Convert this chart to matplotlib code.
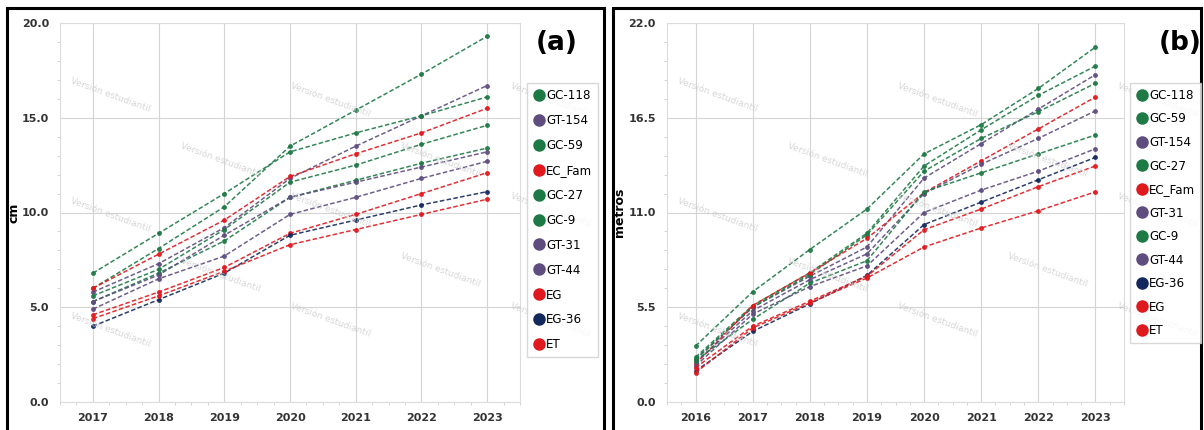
import matplotlib.pyplot as plt
from matplotlib.lines import Line2D
from matplotlib.patches import Rectangle
from matplotlib.ticker import MultipleLocator

# ---- data ----
years_a = [2017, 2018, 2019, 2020, 2021, 2022, 2023]
names_a = ['GC-118', 'GT-154', 'GC-59', 'EC_Fam', 'GC-27', 'GC-9',
           'GT-31', 'GT-44', 'EG', 'EG-36', 'ET']
gc118_a = [6.0, 8.1, 10.3, 13.5, 15.4, 17.3, 19.3]
gt154_a = [5.8, 7.3, 9.2, 11.8, 13.5, 15.1, 16.7]
gc59_a = [6.8, 8.9, 11.0, 13.2, 14.2, 15.1, 16.1]
ecfam_a = [6.0, 7.8, 9.6, 11.9, 13.1, 14.2, 15.5]
gc27_a = [5.6, 7.0, 9.1, 11.6, 12.5, 13.6, 14.6]
gc9_a = [5.3, 6.8, 8.5, 10.8, 11.7, 12.6, 13.4]
gt31_a = [5.3, 6.7, 8.8, 10.8, 11.6, 12.4, 13.2]
gt44_a = [4.9, 6.5, 7.7, 9.9, 10.8, 11.8, 12.7]
eg_a = [4.6, 5.8, 7.1, 8.9, 9.9, 11.0, 12.1]
eg36_a = [4.0, 5.4, 6.8, 8.8, 9.6, 10.4, 11.1]
et_a = [4.4, 5.6, 6.9, 8.3, 9.1, 9.9, 10.7]
vals_a = [gc118_a, gt154_a, gc59_a, ecfam_a, gc27_a, gc9_a,
          gt31_a, gt44_a, eg_a, eg36_a, et_a]

years_b = [2016, 2017, 2018, 2019, 2020, 2021, 2022, 2023]
names_b = ['GC-118', 'GC-59', 'GT-154', 'GC-27', 'EC_Fam', 'GT-31',
           'GC-9', 'GT-44', 'EG-36', 'EG', 'ET']
gc118_b = [3.25, 6.4, 8.85, 11.2, 14.4, 16.1, 18.2, 20.6]
gc59_b = [2.6, 5.6, 7.5, 9.8, 13.7, 15.8, 17.8, 19.5]
gt154_b = [2.45, 5.5, 7.3, 9.0, 13.0, 15.0, 17.0, 19.0]
gc27_b = [2.5, 5.5, 7.4, 9.7, 13.4, 15.3, 16.85, 18.5]
ecfam_b = [2.2, 5.6, 7.5, 9.5, 12.15, 14.0, 15.85, 17.7]
gt31_b = [2.3, 5.3, 7.1, 8.6, 12.1, 13.8, 15.3, 16.9]
gc9_b = [2.4, 4.8, 6.9, 8.2, 12.2, 13.3, 14.4, 15.5]
gt44_b = [2.1, 5.1, 6.7, 7.9, 11.0, 12.3, 13.4, 14.7]
eg36_b = [1.8, 4.1, 5.7, 7.35, 10.3, 11.6, 12.9, 14.2]
eg_b = [2.0, 4.4, 5.85, 7.3, 10.0, 11.2, 12.5, 13.7]
et_b = [1.7, 4.3, 5.75, 7.2, 9.0, 10.1, 11.1, 12.2]
vals_b = [gc118_b, gc59_b, gt154_b, gc27_b, ecfam_b, gt31_b,
          gc9_b, gt44_b, eg36_b, eg_b, et_b]

GREEN = '#1e7a45'
PURPLE = '#5f4d80'
RED = '#e0191e'
NAVY = '#13295e'


def color_for(name):
    if name.startswith('GC'):
        return GREEN
    if name.startswith('GT'):
        return PURPLE
    if name == 'EG-36':
        return NAVY
    return RED


def watermarks(fig, x0):
    spots = [(50, 95), (160, 160), (50, 215), (160, 275), (50, 330),
             (270, 100), (270, 210), (270, 320), (380, 160), (380, 270),
             (490, 100), (490, 210), (490, 320)]
    for sx, sy in spots:
        fig.text((x0 + sx) / 1204, 1 - sy / 430, 'Versión estudiantil',
                 rotation=-20, fontsize=6.5, color='#cccccc', alpha=0.8,
                 ha='center', va='center', zorder=0)


def draw_panel(fig, rect, years, names, vals, ymax, ystep, ylabel, tag,
               leg_xy, leg_space, tag_xy, ylab_x):
    ax = fig.add_axes(rect)
    for name, v in zip(names, vals):
        c = color_for(name)
        ax.plot(years, v, linestyle=(0, (3, 1.5)), lw=1.1, color=c,
                marker='o', markersize=2.5, alpha=0.9, zorder=3)
    ax.set_xlim(years[0] - 0.5, years[-1] + 0.5)
    ax.set_ylim(0, ymax)
    ax.set_xticks(years)
    ax.set_yticks([ystep * i for i in range(5)])
    ax.yaxis.set_major_formatter(plt.FormatStrFormatter('%.1f'))
    ax.xaxis.set_minor_locator(MultipleLocator(0.25))
    ax.yaxis.set_minor_locator(MultipleLocator(ystep / 5))
    ax.grid(True, color='#d4d4d4', lw=0.8)
    ax.set_axisbelow(True)
    for s in ax.spines.values():
        s.set_color('#dcdcdc')
    ax.tick_params(which='major', length=0, labelsize=8, pad=8,
                   colors='#333333')
    ax.tick_params(which='minor', length=2, color='#cccccc')
    for lab in ax.get_xticklabels() + ax.get_yticklabels():
        lab.set_fontweight('bold')
    ax.set_ylabel(ylabel, fontsize=9, fontweight='bold')
    ax.yaxis.set_label_coords(ylab_x, 0.5)

    handles = [Line2D([], [], linestyle='none', marker='o', markersize=8,
                      color=color_for(n)) for n in names]
    lx, ly = leg_xy
    fig.legend(handles, names, loc='upper left',
               bbox_to_anchor=(lx / 1204, 1 - ly / 430),
               frameon=True, fancybox=False, edgecolor='#cfcfcf',
               fontsize=8.6, handletextpad=0.1, handlelength=1.0,
               labelspacing=leg_space, borderpad=0.5, borderaxespad=0)
    fig.text(tag_xy[0] / 1204, 1 - tag_xy[1] / 430, tag, fontsize=19,
             fontweight='bold', ha='center', va='center')
    return ax


fig = plt.figure(figsize=(12.04, 4.30), dpi=100)
fig.patch.set_facecolor('white')

watermarks(fig, 60)
watermarks(fig, 667)

draw_panel(fig, [60 / 1204, 1 - 402 / 430, 460 / 1204, 379 / 430],
           years_a, names_a, vals_a, 20.0, 5.0, 'cm', '(a)',
           (527, 83), 1.0, (557, 43), -0.085)
draw_panel(fig, [667 / 1204, 1 - 402 / 430, 457 / 1204, 379 / 430],
           years_b, names_b, vals_b, 22.0, 5.5, 'metros', '(b)',
           (1130, 83), 0.88, (1180, 43), -0.09)

# black panel frames
for x0, x1 in [(7, 604), (613, 1201)]:
    fig.patches.append(Rectangle((x0 / 1204, -0.05), (x1 - x0) / 1204,
                                 1.05 - 8 / 430, transform=fig.transFigure,
                                 fill=False, edgecolor='black', lw=2.2))

fig.savefig('out.png', dpi=100)
